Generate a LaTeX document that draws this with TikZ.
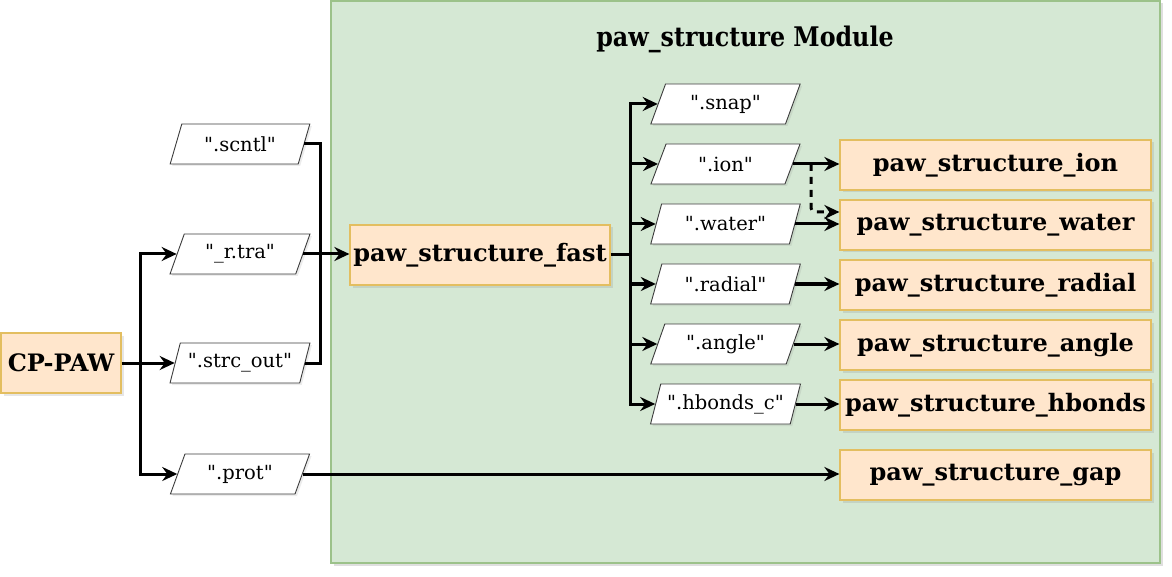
\documentclass[tikz,border=0pt]{standalone}
\usepackage{fontspec}
\setmainfont{DejaVu Serif}
\newfontfamily\titlefont[FakeStretch=0.88]{DejaVu Serif}
\newfontfamily\parafont{DejaVu Serif}
\usetikzlibrary{shapes.geometric,arrows.meta,shadows}
\definecolor{grnfill}{HTML}{D5E8D4}
\definecolor{grnline}{HTML}{9CC28A}
\definecolor{orfill}{HTML}{FFE6CC}
\definecolor{orline}{HTML}{E3BE60}
\definecolor{paraline}{HTML}{3C3C3C}
\newcommand{\dq}{\char34\relax}
\begin{document}
\begin{tikzpicture}[x=1pt,y=-1pt,
  modbox/.style={draw=grnline, fill=grnfill, line width=1.2pt, inner sep=0pt,
    drop shadow={opacity=0.25, shadow xshift=2.5pt, shadow yshift=-2.5pt}},
  procbox/.style={draw=orline, fill=orfill, line width=1.2pt, inner sep=0pt,
    font=\bfseries\fontsize{24}{28}\selectfont,
    drop shadow={opacity=0.2, shadow xshift=2.5pt, shadow yshift=-2.5pt}},
  rbox/.style={procbox, minimum width=311pt, minimum height=50pt},
  datapara/.style={trapezium, trapezium left angle=64.6, trapezium right angle=115.4,
    trapezium stretches=true, draw=paraline, fill=white, line width=0.9pt,
    minimum height=40pt, inner sep=0pt, font=\parafont\fontsize{19.5}{22}\selectfont,
    drop shadow={opacity=0.15, shadow xshift=2pt, shadow yshift=-2pt}},
  lpara/.style={datapara, minimum width=140pt},
  rpara/.style={datapara, minimum width=150pt},
  conn/.style={line width=3pt, -{Stealth[length=15pt,width=14pt,inset=5pt]}},
  plain/.style={line width=3pt},
]
\useasboundingbox (0,0) rectangle (1172,577);

% container
\node[modbox, minimum width=829pt, minimum height=562pt] (mod) at (745.5,282) {};
\node[font=\titlefont\bfseries\fontsize{27}{30}\selectfont] (title) at (745,39) {paw\_structure Module};

% main boxes
\node[procbox, minimum width=120pt, minimum height=60pt] (cp) at (61,363) {CP-PAW};
\node[procbox, minimum width=260pt, minimum height=60pt] (fast) at (480,255) {paw\_structure\_fast};

% left data
\node[lpara] (scntl) at (240,144) {\dq.scntl\dq};
\node[lpara] (rtra) at (240,254) {\dq\_r.tra\dq};
\node[lpara] (strc) at (240,363) {\dq.strc\_out\dq};
\node[lpara] (prot) at (240,474) {\dq.prot\dq};

% right data
\node[rpara] (snap) at (725.5,104) {\dq.snap\dq};
\node[rpara] (ionp) at (725.5,164) {\dq.ion\dq};
\node[rpara] (waterp) at (725.5,224) {\dq.water\dq};
\node[rpara] (radialp) at (725.5,284) {\dq.radial\dq};
\node[rpara] (anglep) at (725.5,344) {\dq.angle\dq};
\node[rpara] (hbondsp) at (725.5,404) {\dq.hbonds\_c\dq};

% right boxes
\node[rbox] (ion) at (995.5,165) {paw\_structure\_ion};
\node[rbox] (water) at (995.5,225) {paw\_structure\_water};
\node[rbox] (radial) at (995.5,285) {paw\_structure\_radial};
\node[rbox] (angle) at (995.5,345) {paw\_structure\_angle};
\node[rbox] (hbonds) at (995.5,405) {paw\_structure\_hbonds};
\node[rbox] (gap) at (995.5,475) {paw\_structure\_gap};

% bus coordinates
\coordinate (busL) at (140,363);
\coordinate (busM) at (320,254);
\coordinate (busR) at (630,255);
\coordinate (dk) at (811,212);

% CP-PAW outputs
\draw[conn] (cp.east) -- (strc.left side);
\draw[conn] (busL) |- (rtra.left side);
\draw[conn] (busL) |- (prot.left side);

% inputs to fast
\draw[plain] (scntl.right side) -| (busM);
\draw[plain] (strc.right side) -| (busM);
\draw[conn] (rtra.right side) -- (fast.west |- rtra.right side);

% fast outputs
\draw[plain] (fast.east) -- (busR);
\foreach \p in {snap,ionp,waterp,radialp,anglep,hbondsp}{
  \draw[conn] (busR) |- (\p.left side);
}

% to analysis boxes
\draw[conn] (ionp.right side) -- (ionp.right side -| ion.west);
\draw[conn] (waterp.right side) -- (waterp.right side -| water.west);
\draw[conn] (radialp.right side) -- (radialp.right side -| radial.west);
\draw[conn] (anglep.right side) -- (anglep.right side -| angle.west);
\draw[conn] (hbondsp.right side) -- (hbondsp.right side -| hbonds.west);
\draw[conn] (prot.right side) -- (prot.right side -| gap.west);
\draw[conn, dash pattern=on 7pt off 6pt, rounded corners=4pt] (ionp.right side -| dk) -- (dk) -- (dk -| water.west);
\end{tikzpicture}
\end{document}
